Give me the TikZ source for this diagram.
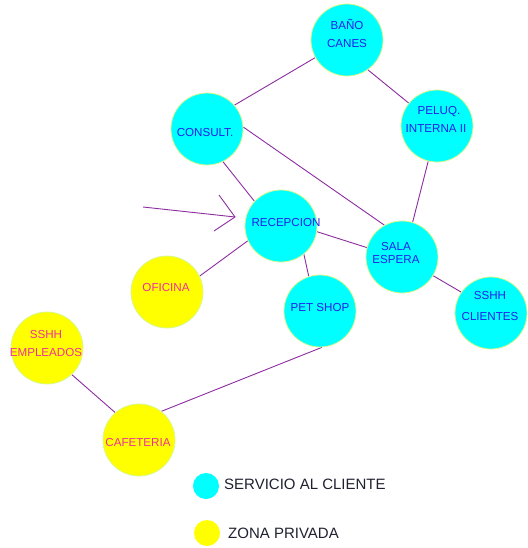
\documentclass[tikz,border=0pt]{standalone}
\usepackage{fontspec}
\setmainfont{Liberation Sans}
\usetikzlibrary{backgrounds}
\definecolor{cyanf}{HTML}{00FFFF}
\definecolor{yelf}{HTML}{FFFF00}
\definecolor{rimc}{HTML}{D8F890}
\definecolor{bluet}{HTML}{2020E8}
\definecolor{pinkt}{HTML}{F0309A}
\definecolor{linec}{HTML}{8C2CA0}
\definecolor{legt}{HTML}{202030}
\tikzset{
  pub/.style={circle, fill=cyanf, draw=rimc, line width=0.8pt, minimum size=72pt, inner sep=0pt},
  priv/.style={circle, fill=yelf, draw=rimc, line width=0.8pt, minimum size=72pt, inner sep=0pt},
  pubtxt/.style={text=bluet, align=center, inner sep=0pt, font=\fontsize{11.6}{18}\selectfont},
  privtxt/.style={text=pinkt, align=center, inner sep=0pt, font=\fontsize{11.6}{18}\selectfont},
  conn/.style={draw=linec, line width=0.9pt},
  legdot/.style={circle, minimum size=26pt, inner sep=0pt},
  legtxt/.style={text=legt, anchor=west, inner sep=0pt, font=\fontsize{15}{18}\selectfont}
}
\begin{document}
\begin{tikzpicture}[x=1pt,y=-1pt]
\useasboundingbox (0,0) rectangle (527,548);
% circles
\node[pub] (bano) at (347,40) {};
\node[pub] (consult) at (207,129) {};
\node[pub] (peluq) at (437,126) {};
\node[pub] (recep) at (281,226) {};
\node[pub] (sala) at (402,257) {};
\node[priv] (oficina) at (167,292) {};
\node[pub] (pet) at (320,311) {};
\node[pub] (sshhc) at (491,313) {};
\node[priv] (sshhe) at (47,348) {};
\node[priv] (cafe) at (139,440) {};
% texts
\node[pubtxt] (tbano) at (347,33) {BAÑO\\CANES};
\node[pubtxt] (tconsult) at (205,133) {CONSULT.};
\node[pubtxt] (tpeluq) at (436,119) {\hspace*{6pt}PELUQ.\\INTERNA II};
\node[pubtxt] (trecep) at (286,223) {RECEPCION};
\node[pubtxt, font=\fontsize{11.6}{12.5}\selectfont] (tsala) at (396,253) {SALA\\ESPERA};
\node[privtxt] (toficina) at (166,288) {OFICINA};
\node[pubtxt] (tpet) at (320,308) {PET SHOP};
\node[pubtxt, font=\fontsize{11.6}{21}\selectfont] (tsshhc) at (490,306) {SSHH\\CLIENTES};
\node[privtxt] (tsshhe) at (46,344) {SSHH\\EMPLEADOS};
\node[privtxt] (tcafe) at (138,443) {CAFETERIA};
% connectors
\begin{scope}[on background layer]
\draw[conn] (bano.209.5) -- (consult.41.6);
\draw[conn] (bano.-55) -- (peluq.141);
\draw[conn] (consult.3.5) -- (sala.119.5);
\draw[conn] (consult.-64) -- (recep.137);
\draw[conn] (peluq.-104) -- (sala.73.6);
\draw[conn] (recep.-9.5) -- (sala.165);
\draw[conn] (recep.204) -- (oficina.26);
\draw[conn] (recep.-51) -- (pet.108);
\draw[conn] (sala.-31.6) -- (sshhc.145);
\draw[conn] (pet.-87) -- (cafe.52);
\draw[conn] (sshhe.-47) -- (cafe.131.5);
\end{scope}
% entrance arrow
\coordinate (astart) at (143,207);
\coordinate (atip) at (235,217);
\coordinate (aup) at (219,195);
\coordinate (adown) at (214,231);
\draw[conn] (astart) -- (atip);
\draw[conn] (aup) -- (atip) -- (adown);
% legend
\node[legdot, fill=cyanf] (lpub) at (206,486) {};
\node[legtxt] (lpubt) at (224,484) {SERVICIO AL CLIENTE};
\node[legdot, fill=yelf] (lpriv) at (207,533) {};
\node[legtxt] (lprivt) at (228,533) {ZONA PRIVADA};
\end{tikzpicture}
\end{document}
